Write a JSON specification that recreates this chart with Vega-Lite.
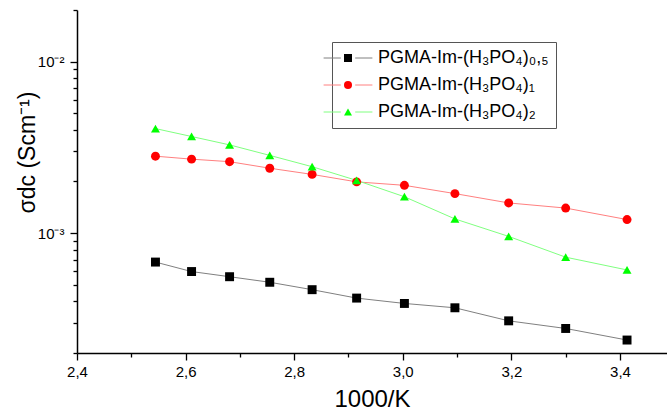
{
  "$schema": "https://vega.github.io/schema/vega-lite/v6.json",
  "width": 590,
  "height": 343,
  "autosize": {"type": "none"},
  "padding": {"left": 77, "top": 10, "right": 0, "bottom": 62},
  "background": "white",
  "config": {
    "view": {"stroke": null},
    "font": "Liberation Sans"
  },
  "data": {
    "values": [
      {"series": "PGMA-Im-(H₃PO₄)₀,₅", "x": 2.5445, "y": 0.000678},
      {"series": "PGMA-Im-(H₃PO₄)₀,₅", "x": 2.611, "y": 0.000597},
      {"series": "PGMA-Im-(H₃PO₄)₀,₅", "x": 2.681, "y": 0.000557},
      {"series": "PGMA-Im-(H₃PO₄)₀,₅", "x": 2.755, "y": 0.000517},
      {"series": "PGMA-Im-(H₃PO₄)₀,₅", "x": 2.833, "y": 0.000468},
      {"series": "PGMA-Im-(H₃PO₄)₀,₅", "x": 2.915, "y": 0.000418},
      {"series": "PGMA-Im-(H₃PO₄)₀,₅", "x": 3.003, "y": 0.000389},
      {"series": "PGMA-Im-(H₃PO₄)₀,₅", "x": 3.096, "y": 0.000367},
      {"series": "PGMA-Im-(H₃PO₄)₀,₅", "x": 3.195, "y": 0.000308},
      {"series": "PGMA-Im-(H₃PO₄)₀,₅", "x": 3.300, "y": 0.000278},
      {"series": "PGMA-Im-(H₃PO₄)₀,₅", "x": 3.413, "y": 0.000238},
      {"series": "PGMA-Im-(H₃PO₄)₁", "x": 2.5445, "y": 0.00281},
      {"series": "PGMA-Im-(H₃PO₄)₁", "x": 2.611, "y": 0.00270},
      {"series": "PGMA-Im-(H₃PO₄)₁", "x": 2.681, "y": 0.00261},
      {"series": "PGMA-Im-(H₃PO₄)₁", "x": 2.755, "y": 0.00239},
      {"series": "PGMA-Im-(H₃PO₄)₁", "x": 2.833, "y": 0.00220},
      {"series": "PGMA-Im-(H₃PO₄)₁", "x": 2.915, "y": 0.00199},
      {"series": "PGMA-Im-(H₃PO₄)₁", "x": 3.003, "y": 0.00190},
      {"series": "PGMA-Im-(H₃PO₄)₁", "x": 3.096, "y": 0.00170},
      {"series": "PGMA-Im-(H₃PO₄)₁", "x": 3.195, "y": 0.00150},
      {"series": "PGMA-Im-(H₃PO₄)₁", "x": 3.300, "y": 0.00140},
      {"series": "PGMA-Im-(H₃PO₄)₁", "x": 3.413, "y": 0.00120},
      {"series": "PGMA-Im-(H₃PO₄)₂", "x": 2.5445, "y": 0.00407},
      {"series": "PGMA-Im-(H₃PO₄)₂", "x": 2.611, "y": 0.00366},
      {"series": "PGMA-Im-(H₃PO₄)₂", "x": 2.681, "y": 0.00327},
      {"series": "PGMA-Im-(H₃PO₄)₂", "x": 2.755, "y": 0.00284},
      {"series": "PGMA-Im-(H₃PO₄)₂", "x": 2.833, "y": 0.00244},
      {"series": "PGMA-Im-(H₃PO₄)₂", "x": 2.915, "y": 0.00203},
      {"series": "PGMA-Im-(H₃PO₄)₂", "x": 3.003, "y": 0.00163},
      {"series": "PGMA-Im-(H₃PO₄)₂", "x": 3.096, "y": 0.00121},
      {"series": "PGMA-Im-(H₃PO₄)₂", "x": 3.195, "y": 0.000957},
      {"series": "PGMA-Im-(H₃PO₄)₂", "x": 3.300, "y": 0.000724},
      {"series": "PGMA-Im-(H₃PO₄)₂", "x": 3.413, "y": 0.000610}
    ]
  },
  "encoding": {
    "x": {
      "field": "x", "type": "quantitative",
      "scale": {"domain": [2.4, 3.4866], "nice": false, "zero": false},
      "axis": {
        "title": "1000/K",
        "titleFontSize": 24, "titleFontWeight": "normal", "titleColor": "#000",
        "titlePadding": 8,
        "values": [2.4, 2.5, 2.6, 2.7, 2.8, 2.9, 3.0, 3.1, 3.2, 3.3, 3.4],
        "labelExpr": "round(datum.value*10) % 2 == 1 ? '' : replace(format(datum.value, '.1f'), '.', ',')",
        "labelFontSize": 15, "labelColor": "#000", "labelPadding": 4,
        "tickSize": {"condition": {"test": "round(datum.value*10) % 2 == 1", "value": 4}, "value": 7},
        "tickColor": "#000", "tickWidth": 1.3,
        "domainColor": "#000", "domainWidth": 1.5,
        "grid": false, "labelFlush": false
      }
    },
    "y": {
      "field": "y", "type": "quantitative",
      "scale": {"type": "log", "domain": [0.0002, 0.02], "nice": false},
      "axis": {
        "title": "σdc (Scm⁻¹)",
        "titleFontSize": 23, "titleFontWeight": "normal", "titleColor": "#000",
        "titleX": -50, "titleY": 142, "titleAngle": -90, "titleBaseline": "middle", "titleAlign": "center",
        "values": [0.0002, 0.0003, 0.0004, 0.0005, 0.0006, 0.0007, 0.0008, 0.0009, 0.001, 0.002, 0.003, 0.004, 0.005, 0.006, 0.007, 0.008, 0.009, 0.01, 0.02],
        "labelExpr": "datum.value == 0.01 ? '10⁻²' : (datum.value == 0.001 ? '10⁻³' : '')",
        "labelFontSize": 15, "labelColor": "#000", "labelPadding": 6,
        "tickSize": {"condition": {"test": "datum.value == 0.01 || datum.value == 0.001", "value": 7}, "value": 4},
        "tickColor": "#000", "tickWidth": 1.3,
        "domainColor": "#000", "domainWidth": 1.5,
        "grid": false, "labelFlush": false
      }
    }
  },
  "layer": [
    {
      "mark": {"type": "line", "strokeWidth": 1},
      "encoding": {
        "stroke": {
          "field": "series", "type": "nominal",
          "scale": {
            "domain": ["PGMA-Im-(H₃PO₄)₀,₅", "PGMA-Im-(H₃PO₄)₁", "PGMA-Im-(H₃PO₄)₂"],
            "range": ["#808080", "#ff8080", "#80ff80"]
          },
          "legend": {
            "orient": "none", "legendX": 255, "legendY": 32,
            "title": null,
            "symbolType": "M-6.1,0H-1.8M1.8,0H6.1",
            "symbolSize": 64, "symbolStrokeWidth": 1,
            "labelFontSize": 18, "labelOpacity": 0, "labelOffset": 21, "labelLimit": 400,
            "padding": 7, "rowPadding": 9,
            "strokeColor": "#555"
          }
        }
      }
    },
    {
      "mark": {"type": "point", "filled": true, "opacity": 1, "size": 80, "strokeWidth": 0},
      "encoding": {
        "fill": {
          "field": "series", "type": "nominal",
          "scale": {"range": ["#000000", "#ff0000", "#00ff00"]},
          "legend": {
            "orient": "none", "legendX": 255, "legendY": 32,
            "title": null,
            "symbolSize": 64, "symbolStrokeWidth": 0,
            "labelFontSize": 18, "labelColor": "#000", "labelOffset": 21, "labelLimit": 400,
            "padding": 7, "rowPadding": 9
          }
        },
        "shape": {
          "field": "series", "type": "nominal",
          "scale": {"range": ["square", "circle", "triangle-up"]},
          "legend": {
            "orient": "none", "legendX": 255, "legendY": 32,
            "title": null,
            "symbolSize": 64, "symbolStrokeWidth": 0,
            "labelFontSize": 18, "labelColor": "#000", "labelOffset": 21, "labelLimit": 400,
            "padding": 7, "rowPadding": 9
          }
        }
      }
    }
  ]
}
